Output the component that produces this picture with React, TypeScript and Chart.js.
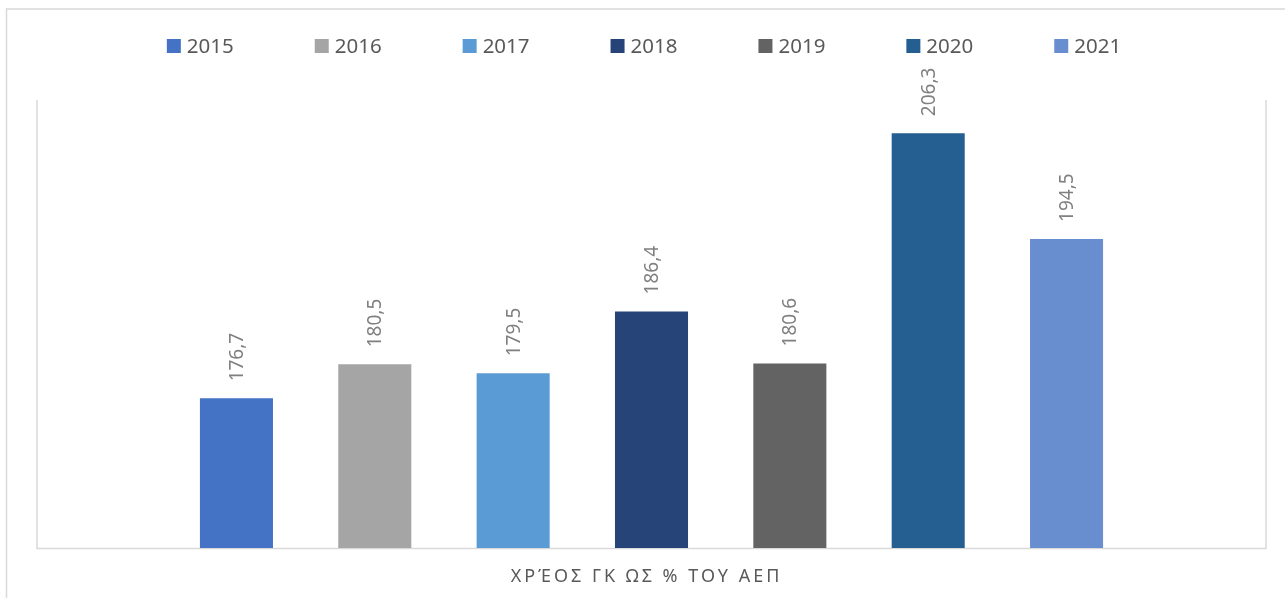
import React, { useEffect, useRef } from "react";
import { Chart, registerables } from "chart.js";

Chart.register(...registerables);

const categories: string[] = ["ΧΡΈΟΣ ΓΚ ΩΣ % ΤΟΥ ΑΕΠ"];
const seriesLabels: string[] = ["2015", "2016", "2017", "2018", "2019", "2020", "2021"];
const seriesValues: number[] = [176.7, 180.5, 179.5, 186.4, 180.6, 206.3, 194.5];
const seriesColors: string[] = ["#4472C4", "#A5A5A5", "#5B9BD5", "#264478", "#636363", "#255E91", "#698ED0"];
const yMin = 160;
const yMax = 210;

const FONT = '"Noto Sans", "DejaVu Sans", sans-serif';

const framePlugin = {
  id: "framePlugin",
  beforeDraw(chart: any) {
    const ctx = chart.ctx;
    const a = chart.chartArea;
    ctx.save();
    ctx.fillStyle = "#ffffff";
    ctx.fillRect(0, 0, chart.width, chart.height);
    ctx.strokeStyle = "#d9d9d9";
    ctx.lineWidth = 1.5;
    ctx.beginPath();
    ctx.moveTo(6.5, chart.height + 5);
    ctx.lineTo(6.5, 9);
    ctx.lineTo(chart.width + 5, 9);
    ctx.stroke();
    ctx.lineWidth = 1.5;
    ctx.beginPath();
    ctx.moveTo(a.left, a.top);
    ctx.lineTo(a.left, a.bottom + 0.5);
    ctx.lineTo(a.right, a.bottom + 0.5);
    ctx.lineTo(a.right, a.top);
    ctx.stroke();
    ctx.restore();
  },
  afterDatasetsDraw(chart: any) {
    const ctx = chart.ctx;
    ctx.save();
    ctx.font = `19px ${FONT}`;
    ctx.fillStyle = "#808080";
    ctx.textAlign = "left";
    ctx.textBaseline = "middle";
    chart.data.datasets.forEach((ds: any, i: number) => {
      const meta = chart.getDatasetMeta(i);
      const el = meta.data[0];
      if (!el) return;
      const txt = Number(ds.data[0]).toFixed(1).replace(".", ",");
      ctx.save();
      ctx.translate(el.x + 1, el.y - 17);
      ctx.rotate(-Math.PI / 2);
      ctx.fillText(txt, 0, 0);
      ctx.restore();
    });
    ctx.restore();
  },
  afterDraw(chart: any) {
    const ctx = chart.ctx;
    const cx = chart.width / 2 + 1.5;
    // legend
    ctx.save();
    ctx.font = `20.5px ${FONT}`;
    ctx.textBaseline = "middle";
    ctx.textAlign = "left";
    const box = 14;
    const gap = 6;
    const spacing = 81;
    const items = chart.data.datasets.map((ds: any) => ({
      text: ds.label,
      color: ds.backgroundColor,
      w: box + gap + ctx.measureText(ds.label).width,
    }));
    const total = items.reduce((s: number, it: any) => s + it.w, 0) + spacing * (items.length - 1);
    let x = cx - total / 2;
    const y = 46;
    items.forEach((it: any) => {
      ctx.fillStyle = it.color;
      ctx.fillRect(x, y - box / 2, box, box);
      ctx.fillStyle = "#595959";
      ctx.fillText(it.text, x + box + gap, y + 1);
      x += it.w + spacing;
    });
    ctx.restore();
    // category label
    ctx.save();
    ctx.font = `18px ${FONT}`;
    ctx.fillStyle = "#595959";
    ctx.textBaseline = "middle";
    ctx.textAlign = "center";
    (ctx as any).letterSpacing = "3px";
    const lbl = chart.data.labels[0];
    const sx = chart.scales.x.getPixelForValue(0);
    ctx.fillText(lbl, sx - 5, 577);
    ctx.restore();
  },
};

export default function App() {
  const canvasRef = useRef<HTMLCanvasElement | null>(null);
  useEffect(() => {
    if (!canvasRef.current) return;
    const chart = new Chart(canvasRef.current, {
      type: "bar",
      data: {
        labels: categories,
        datasets: seriesLabels.map((label, i) => ({
          label,
          data: [seriesValues[i]],
          backgroundColor: seriesColors[i],
          borderWidth: 0,
          categoryPercentage: 0.788,
          barPercentage: 0.528,
        })),
      },
      options: {
        animation: false,
        responsive: false,
        devicePixelRatio: 1,
        layout: { padding: { left: 37, right: 19, top: 100, bottom: 50 } },
        plugins: {
          legend: { display: false },
          tooltip: { enabled: false },
        },
        scales: {
          x: { display: false, grid: { display: false } },
          y: { display: false, min: yMin, max: yMax, grid: { display: false } },
        },
      },
      plugins: [framePlugin],
    });
    return () => chart.destroy();
  }, []);
  return (
    <div style={{ position: "fixed", left: 0, top: 0, width: 1285, height: 598, background: "#fff" }}>
      <canvas ref={canvasRef} width={1285} height={598} />
    </div>
  );
}
